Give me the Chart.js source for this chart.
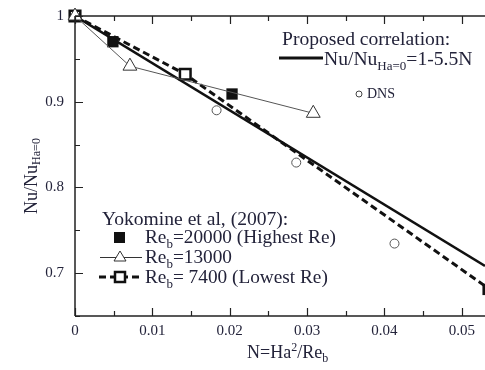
<!DOCTYPE html>
<html><head><meta charset="utf-8">
<script src="https://cdn.jsdelivr.net/npm/chart.js@4"></script>
<style>html,body{margin:0;padding:0;background:#fff}#wrap{width:485px;height:370px}</style>
</head><body><div id="wrap"><canvas id="c" width="485" height="370"></canvas></div>
<script>
// ---- data ----
const xTicks = [0, 0.01, 0.02, 0.03, 0.04, 0.05];
const xTickLabels = ['0', '0.01', '0.02', '0.03', '0.04', '0.05'];
const yTicks = [0.7, 0.8, 0.9, 1.0];
const yTickLabels = ['0.7', '0.8', '0.9', '1'];
const corrN = [0, 0.053];
const corrNu = [1.0, 0.7085];
const re20000N = [0, 0.0049, 0.0203, 0.0534];
const re20000Nu = [1.0, 0.970, 0.909, 0.681];
const re13000N = [0, 0.0071, 0.0308];
const re13000Nu = [1.0, 0.9415, 0.8865];
const re7400N = [0, 0.01425, 0.053];
const re7400Nu = [1.0, 0.932, 0.685];
const dnsN = [0.0183, 0.0286, 0.0413];
const dnsNu = [0.890, 0.829, 0.7345];

const pts = (xs, ys) => xs.map((x, i) => ({x, y: ys[i]}));
const SERIF = '"Liberation Serif", "DejaVu Serif", serif';
const TXT = '#23233a';

const axesPlugin = {
  id: 'axesPlugin',
  afterDatasetsDraw(chart) {
    const {ctx, chartArea: a, scales: {x, y}} = chart;
    ctx.save();
    ctx.strokeStyle = '#222';
    ctx.lineWidth = 1.5;
    ctx.beginPath();
    ctx.moveTo(a.left, a.top); ctx.lineTo(a.right, a.top);
    ctx.moveTo(a.left, a.top); ctx.lineTo(a.left, a.bottom);
    ctx.moveTo(a.left, a.bottom); ctx.lineTo(a.right, a.bottom);
    ctx.stroke();
    ctx.lineWidth = 1.2;
    ctx.beginPath();
    for (let v = 0; v <= 0.0531; v += 0.005) {
      const px = Math.round(x.getPixelForValue(v)) + 0.5;
      const major = Math.abs(v / 0.01 - Math.round(v / 0.01)) < 1e-6;
      const L = major ? 8 : 5;
      ctx.moveTo(px, a.bottom); ctx.lineTo(px, a.bottom - L);
      ctx.moveTo(px, a.top); ctx.lineTo(px, a.top + L);
    }
    for (let v = 0.65; v <= 1.0001; v += 0.05) {
      const py = Math.round(y.getPixelForValue(v)) + 0.5;
      const major = Math.abs(v / 0.1 - Math.round(v / 0.1)) < 1e-6;
      const L = major ? 8 : 5;
      ctx.moveTo(a.left, py); ctx.lineTo(a.left + L, py);
    }
    ctx.stroke();
    // tick labels
    ctx.fillStyle = TXT;
    ctx.font = '15px ' + SERIF;
    ctx.textAlign = 'center'; ctx.textBaseline = 'middle';
    xTicks.forEach((v, i) => ctx.fillText(xTickLabels[i], x.getPixelForValue(v), a.bottom + 15));
    ctx.textAlign = 'right';
    yTicks.forEach((v, i) => ctx.fillText(yTickLabels[i], a.left - 11, y.getPixelForValue(v)));
    ctx.restore();
  },
  afterDraw(chart) {
    const {ctx} = chart;
    ctx.save();
    ctx.fillStyle = TXT;
    ctx.textBaseline = 'alphabetic';
    ctx.textAlign = 'left';
    const seq = (parts, x0, y0) => {
      let xx = x0;
      parts.forEach(([t, size, dy]) => {
        ctx.font = size + 'px ' + SERIF;
        ctx.fillText(t, xx, y0 + dy);
        xx += ctx.measureText(t).width;
      });
      return xx;
    };
    // x-axis title
    seq([['N=Ha', 18, 0], ['2', 12, -7], ['/Re', 18, 0], ['b', 12, 4]], 247, 358);
    // y-axis title (rotated)
    ctx.save();
    ctx.translate(37, 176);
    ctx.rotate(-Math.PI / 2);
    ctx.font = '18px ' + SERIF;
    const w1 = ctx.measureText('Nu/Nu').width;
    ctx.font = '12px ' + SERIF;
    const w2 = ctx.measureText('Ha=0').width;
    seq([['Nu/Nu', 18, 0], ['Ha=0', 12, 3]], -(w1 + w2) / 2, 0);
    ctx.restore();
    // proposed correlation legend
    seq([['Proposed correlation:', 19.6, 0]], 282, 45);
    ctx.strokeStyle = '#111'; ctx.lineWidth = 3;
    ctx.beginPath(); ctx.moveTo(279, 58); ctx.lineTo(323, 58); ctx.stroke();
    seq([['Nu/Nu', 19.6, 0], ['Ha=0', 13, 5], ['=1-5.5N', 19.6, 0]], 324, 65);
    // DNS legend
    ctx.strokeStyle = '#444'; ctx.lineWidth = 1;
    ctx.beginPath(); ctx.arc(359, 94, 3, 0, 2 * Math.PI); ctx.stroke();
    seq([['DNS', 14, 0]], 367, 98);
    // Yokomine legend
    seq([['Yokomine et al, (2007):', 19.6, 0]], 102, 225);
    // row1 filled square
    ctx.fillStyle = '#111';
    ctx.fillRect(114, 232, 11, 11);
    ctx.fillStyle = TXT;
    seq([['Re', 19.3, 0], ['b', 13, 5], ['=20000 (Highest Re)', 19.3, 0]], 145, 243);
    // row2 triangle with thin line
    ctx.strokeStyle = '#333'; ctx.lineWidth = 1;
    ctx.beginPath(); ctx.moveTo(100, 257.5); ctx.lineTo(142, 257.5); ctx.stroke();
    ctx.fillStyle = '#fff';
    ctx.beginPath(); ctx.moveTo(120, 251); ctx.lineTo(126, 261); ctx.lineTo(114, 261); ctx.closePath();
    ctx.fill(); ctx.stroke();
    ctx.fillStyle = TXT;
    seq([['Re', 19.3, 0], ['b', 13, 5], ['=13000', 19.3, 0]], 145, 263);
    // row3 dashed with open square
    ctx.strokeStyle = '#111'; ctx.lineWidth = 3; ctx.setLineDash([7, 4]);
    ctx.beginPath(); ctx.moveTo(99, 277); ctx.lineTo(142, 277); ctx.stroke();
    ctx.setLineDash([]);
    ctx.fillStyle = '#fff'; ctx.lineWidth = 2.5;
    ctx.fillRect(115, 272, 10, 10); ctx.strokeRect(115, 272, 10, 10);
    ctx.fillStyle = TXT;
    seq([['Re', 19.3, 0], ['b', 13, 5], ['= 7400 (Lowest Re)', 19.3, 0]], 145, 283);
    ctx.restore();
  }
};

new Chart(document.getElementById('c'), {
  type: 'scatter',
  data: {
    datasets: [
      {label: 'DNS', data: pts(dnsN, dnsNu), pointStyle: 'circle', pointRadius: 4.5,
       borderColor: '#555', borderWidth: 1, backgroundColor: '#fff', showLine: false, clip: false},
      {label: 'Re=13000', data: pts(re13000N, re13000Nu), showLine: true, borderColor: '#555',
       borderWidth: 1, pointStyle: 'triangle', pointRadius: 8, pointBorderWidth: 1,
       pointBackgroundColor: '#fff', pointBorderColor: '#333', clip: false},
      {label: 'Proposed', data: pts(corrN, corrNu), showLine: true, borderColor: '#111',
       borderWidth: 2.5, pointRadius: 0},
      {label: 'Re=7400', data: pts(re7400N, re7400Nu), showLine: true, borderColor: '#111',
       borderWidth: 3, borderDash: [7, 4], pointStyle: 'rect', pointRadius: [7.5, 7.5, 0],
       pointBorderWidth: 2.5, pointBackgroundColor: '#fff', pointBorderColor: '#111', clip: false},
      {label: 'Re=20000', data: pts(re20000N, re20000Nu), showLine: false, pointStyle: 'rect',
       pointRadius: [0, 8, 8, 8], pointBorderWidth: 0, pointBackgroundColor: '#111',
       pointBorderColor: '#111', clip: false}
    ]
  },
  options: {
    responsive: false, animation: false, devicePixelRatio: 1,
    layout: {autoPadding: false, padding: {top: 16, right: 0, left: 0, bottom: 0}},
    plugins: {legend: {display: false}, tooltip: {enabled: false}},
    scales: {
      x: {type: 'linear', min: 0, max: 0.053,
          afterFit: s => { s.height = 54; },
          grid: {display: false}, border: {display: false}, ticks: {display: false}},
      y: {type: 'linear', min: 0.65, max: 1.0,
          afterFit: s => { s.width = 75; },
          grid: {display: false}, border: {display: false}, ticks: {display: false}}
    }
  },
  plugins: [axesPlugin]
});
</script></body></html>
